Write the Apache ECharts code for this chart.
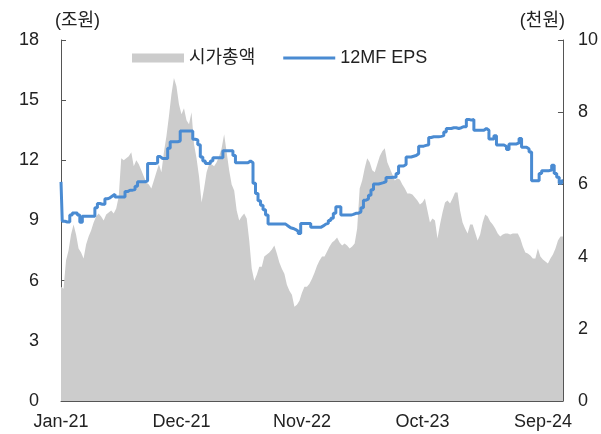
<!DOCTYPE html>
<html>
<head>
<meta charset="utf-8">
<script src="https://cdn.jsdelivr.net/npm/echarts@6/dist/echarts.min.js"></script>
<style>
html,body{margin:0;padding:0;background:#fff;}
#chart{width:601px;height:434px;}
</style>
</head>
<body>
<div id="chart"></div>
<script>
// Tick labels on the x axis (one every 48 sampled points)
const tickLabels = ["Jan-21", "Dec-21", "Nov-22", "Oct-23", "Sep-24"];
const tickStep = 48;

// 시가총액 (조원), sampled across the period
const capValues = [
5.7,5.6,7.0,7.5,8.3,8.8,8.3,7.6,7.4,7.1,
7.8,8.2,8.5,8.9,9.2,9.35,9.2,9.0,9.3,9.4,
9.5,9.35,9.6,10.2,12.1,12.0,12.1,12.2,12.4,11.7,
12.0,11.8,11.5,11.2,10.9,10.8,10.6,11.0,11.4,11.8,
11.4,12.4,13.2,14.2,15.3,16.1,15.7,14.8,14.3,14.6,
14.0,13.8,14.4,12.8,12.1,11.2,9.9,10.6,11.4,11.8,
11.8,11.7,11.9,12.2,12.6,13.3,12.4,11.5,10.8,10.5,
9.5,9.0,9.2,9.35,9.1,8.0,6.6,6.0,6.3,6.7,
6.7,7.2,7.3,7.4,7.55,7.75,7.35,6.9,6.6,6.35,
5.8,5.5,5.3,4.7,4.8,5.0,5.4,5.7,5.7,5.85,
6.1,6.4,6.75,7.0,7.2,7.2,7.45,7.7,7.9,8.0,
8.15,7.9,7.75,7.85,7.75,7.6,7.7,7.85,8.6,10.6,
11.0,11.6,12.1,11.9,11.5,11.4,11.8,12.2,12.45,12.6,
11.9,11.6,11.3,11.0,11.1,11.05,10.8,10.6,10.35,10.35,
10.3,10.15,10.0,9.8,9.9,10.1,9.5,8.9,9.1,9.0,
8.1,8.8,9.4,9.9,10.0,9.85,10.1,10.4,10.4,9.5,
8.9,8.6,8.35,8.8,8.8,8.4,8.0,8.3,8.9,9.3,
9.2,8.95,8.8,8.6,8.35,8.2,8.3,8.35,8.35,8.3,
8.35,8.35,8.35,8.1,7.7,7.4,7.35,7.25,7.1,7.1,
7.6,7.2,7.05,6.95,6.85,7.1,7.3,7.6,8.0,8.2,
8.2
];

// 12MF EPS (천원)
const epsValues = [
6.07,4.98,4.96,4.96,5.15,5.21,5.21,5.15,4.95,5.12,
5.12,5.12,5.12,5.12,5.35,5.47,5.45,5.45,5.6,5.63,
5.68,5.73,5.65,5.65,5.65,5.65,5.8,5.84,5.84,5.86,
5.95,6.07,6.07,6.07,6.1,6.58,6.58,6.58,6.6,6.77,
6.72,6.72,6.72,7.0,7.18,7.18,7.18,7.2,7.48,7.48,
7.48,7.48,7.48,7.25,7.23,7.1,6.76,6.65,6.58,6.58,
6.65,6.74,6.74,6.74,6.74,6.93,6.93,6.93,6.93,6.8,
6.6,6.6,6.6,6.6,6.6,6.65,6.6,6.03,5.75,5.55,
5.42,5.3,5.15,4.9,4.9,4.9,4.9,4.9,4.9,4.9,
4.85,4.8,4.78,4.75,4.7,4.64,4.92,4.92,4.92,4.92,
4.81,4.81,4.81,4.81,4.85,4.9,4.92,5.0,5.06,5.2,
5.38,5.38,5.15,5.15,5.15,5.15,5.17,5.2,5.2,5.24,
5.35,5.56,5.6,5.7,5.85,6.01,6.01,6.03,6.05,6.08,
6.19,6.19,6.2,6.2,6.3,6.51,6.51,6.55,6.76,6.76,
6.78,6.8,6.85,7.06,7.06,7.08,7.1,7.3,7.32,7.32,
7.32,7.33,7.35,7.45,7.55,7.55,7.57,7.57,7.55,7.57,
7.6,7.6,7.8,7.78,7.8,7.5,7.5,7.5,7.5,7.55,
7.5,7.26,7.26,7.35,7.09,7.09,7.09,7.05,6.97,7.12,
7.12,7.12,7.15,7.27,7.03,7.03,6.98,6.9,6.1,6.1,
6.1,6.3,6.38,6.38,6.38,6.4,6.53,6.3,6.2,6.03,
6.1
];

const categories = capValues.map((_, i) => String(i));

const chart = echarts.init(document.getElementById('chart'), null, {renderer: 'canvas'});
const axisColor = '#555555';
const labelColor = '#222222';
const fontFamily = '"Liberation Sans", "Noto Sans CJK KR", sans-serif';
const showTick = (idx) => idx % tickStep === 0;

chart.setOption({
  animation: false,
  backgroundColor: '#ffffff',
  grid: {left: 61, right: 37, top: 40, bottom: 33, containLabel: false},
  legend: {
    top: 44,
    left: 127,
    itemWidth: 52,
    itemHeight: 9,
    itemGap: 28,
    textStyle: {fontSize: 18, color: labelColor, fontFamily: fontFamily},
    data: [
      {name: '시가총액', icon: 'rect'},
      {name: '12MF EPS', icon: 'path://M0,0 M0,9 M0,3 L52,3 L52,6 L0,6 Z'}
    ]
  },
  xAxis: {
    type: 'category',
    data: categories,
    boundaryGap: false,
    axisLine: {lineStyle: {color: axisColor, width: 1}},
    axisTick: {inside: true, length: 5, interval: showTick, lineStyle: {color: axisColor}},
    axisLabel: {
      interval: showTick,
      margin: 12,
      fontSize: 18,
      color: labelColor,
      fontFamily: fontFamily,
      formatter: (v, idx) => tickLabels[Math.round(idx / tickStep)] || ''
    },
    splitLine: {show: false}
  },
  yAxis: [
    {
      type: 'value', min: 0, max: 18, interval: 3,
      name: '(조원)', nameLocation: 'end', nameGap: 19,
      nameTextStyle: {fontSize: 18, color: labelColor, align: 'left', verticalAlign: 'middle', padding: [0, 0, 0, -6], fontFamily: fontFamily},
      axisLine: {show: true, lineStyle: {color: axisColor}},
      axisTick: {show: true, inside: true, length: 5, lineStyle: {color: axisColor}},
      axisLabel: {fontSize: 18, color: labelColor, margin: 22, fontFamily: fontFamily},
      splitLine: {show: false}
    },
    {
      type: 'value', min: 0, max: 10, interval: 2,
      name: '(천원)', nameLocation: 'end', nameGap: 19,
      nameTextStyle: {fontSize: 18, color: labelColor, align: 'right', verticalAlign: 'middle', padding: [0, -2, 0, 0], fontFamily: fontFamily},
      axisLine: {show: true, lineStyle: {color: axisColor}},
      axisTick: {show: true, inside: true, length: 5, lineStyle: {color: axisColor}},
      axisLabel: {fontSize: 18, color: labelColor, margin: 15, fontFamily: fontFamily},
      splitLine: {show: false}
    }
  ],
  series: [
    {
      name: '시가총액',
      type: 'line',
      yAxisIndex: 0,
      data: capValues,
      symbol: 'none',
      lineStyle: {width: 0, color: '#cccccc'},
      itemStyle: {color: '#cccccc'},
      areaStyle: {color: '#cccccc', opacity: 1},
      z: 1
    },
    {
      name: '12MF EPS',
      type: 'line',
      yAxisIndex: 1,
      data: epsValues,
      symbol: 'none',
      step: 'middle',
      lineStyle: {width: 3, color: '#4a8bd2'},
      itemStyle: {color: '#4a8bd2'},
      z: 3
    }
  ]
});
</script>
</body>
</html>
